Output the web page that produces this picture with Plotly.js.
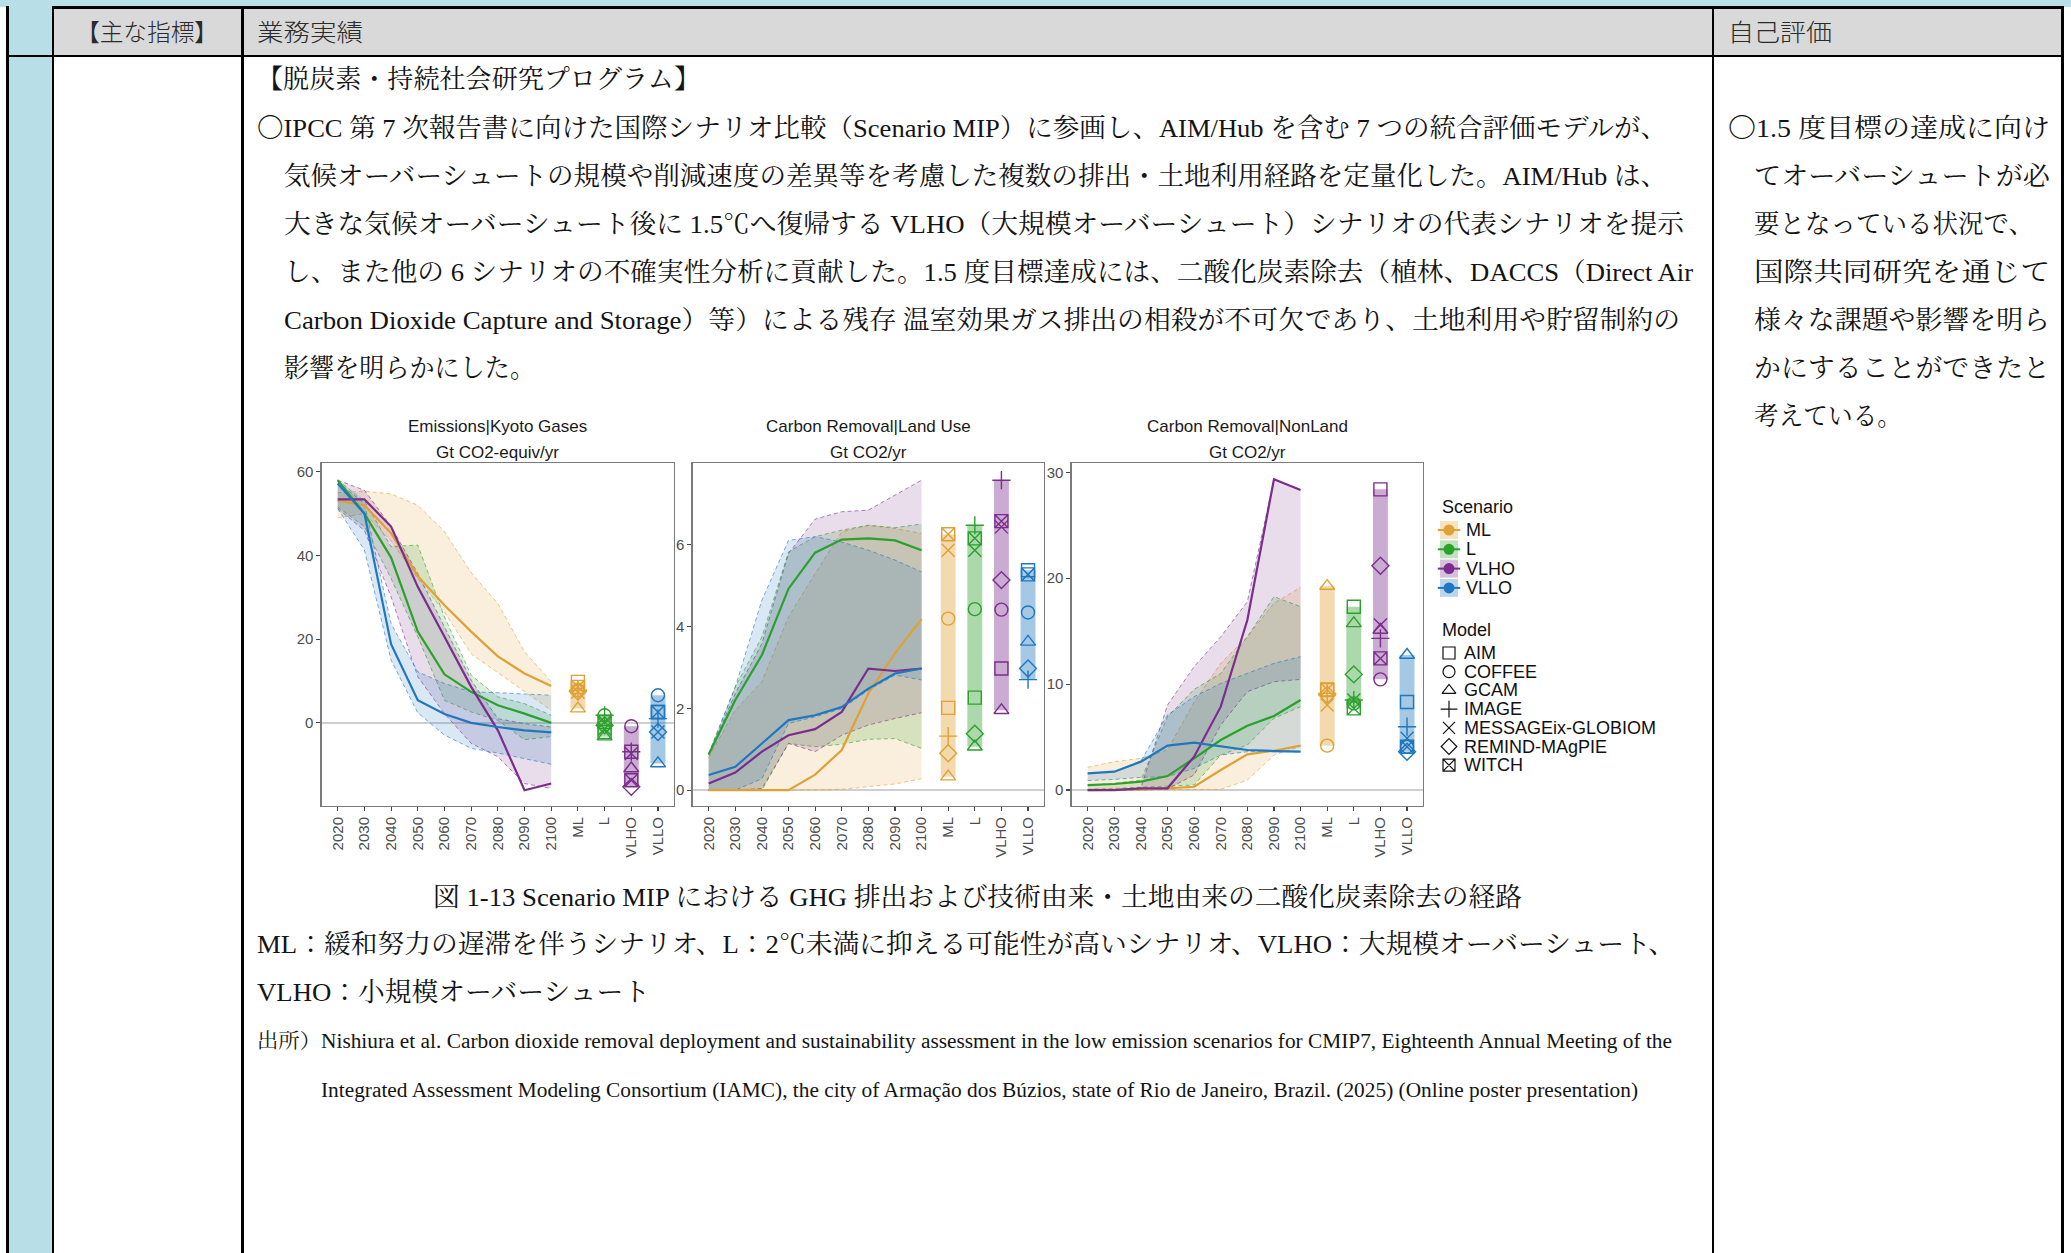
<!DOCTYPE html>
<html><head><meta charset="utf-8">
<script src="https://cdn.plot.ly/plotly-3.0.1.min.js"></script>
<style>
html,body{margin:0;padding:0;background:#fff;}
#page{position:relative;width:2071px;height:1253px;overflow:hidden;background:#fff;}
.blk{position:absolute;}
.ln{position:absolute;white-space:nowrap;transform-origin:0 50%;}
.serif{font-family:"Liberation Serif","Noto Serif CJK JP","Noto Sans CJK JP",serif;color:#141414;}
.hdr{font-family:"Noto Sans CJK JP",sans-serif;font-weight:300;color:#2a2a2a;}
#chart{position:absolute;left:0;top:0;width:2071px;height:1253px;pointer-events:none;z-index:5;}
</style></head>
<body>
<div id="page"><div id="chart"></div></div>
<script>
// ---------------- chart data ----------------
const categories = ['2020','2030','2040','2050','2060','2070','2080','2090','2100','ML','L','VLHO','VLLO'];
const years = ['2020','2030','2040','2050','2060','2070','2080','2090','2100'];
const scenarios = ['ML','L','VLHO','VLLO'];
const models = ['AIM','COFFEE','GCAM','IMAGE','MESSAGEix-GLOBIOM','REMIND-MAgPIE','WITCH'];
const panelTitles = ['Emissions|Kyoto Gases','Carbon Removal|Land Use','Carbon Removal|NonLand'];
const panelUnits = ['Gt CO2-equiv/yr','Gt CO2/yr','Gt CO2/yr'];

// Emissions|Kyoto Gases (rows: ML, L, VLHO, VLLO)
const kyotoMedian = [
  [53.1, 52.0, 45.3, 35.1, 28.1, 21.8, 15.9, 11.8, 8.8],
  [58.0, 50.0, 39.5, 21.8, 11.6, 7.4, 4.2, 2.2, 0.0],
  [53.4, 53.4, 46.9, 32.5, 20.6, 8.6, -1.8, -16.1, -14.5],
  [57.2, 50.0, 18.8, 5.4, 2.1, 0.0, -1.0, -1.8, -2.3]
];
const kyotoUpper = [
  [55.0, 55.4, 54.7, 52.0, 45.7, 35.9, 28.5, 17.0, 9.8],
  [58.0, 53.0, 42.1, 42.5, 25.3, 11.4, 6.2, 4.6, 1.8],
  [58.0, 55.6, 46.9, 35.7, 22.9, 10.2, 1.0, -0.2, -1.0],
  [57.6, 52.4, 23.7, 12.2, 9.4, 7.4, 7.2, 6.9, 6.6]
];
const kyotoLower = [
  [49.0, 50.0, 43.5, 34.5, 26.5, 16.5, 12.0, 7.5, 3.0],
  [51.6, 46.9, 34.5, 20.6, 5.4, 2.6, 0.6, -4.0, -3.3],
  [51.2, 46.0, 30.1, 11.0, 2.2, -4.9, -8.1, -14.5, -15.7],
  [51.2, 41.3, 15.0, 2.4, -2.9, -6.1, -7.2, -8.5, -9.9]
];
// 2100 values per model (columns: ML, L, VLHO, VLLO)
const kyoto2100 = [
  [9.8, -2.2, -6.9, 2.6],
  [7.8, 1.8, -0.8, 6.6],
  [3.4, -3.3, -10.9, -9.7],
  [7.8, 1.8, -6.9, 1.0],
  [7.4, -1.4, -7.3, -2.2],
  [7.5, -0.6, -15.3, -2.2],
  [8.6, 0.2, -13.7, 2.6]
];

// Carbon Removal|Land Use
const landMedian = [
  [0, 0, 0, 0, 0.38, 0.98, 2.36, 3.34, 4.18],
  [0.87, 2.2, 3.3, 4.92, 5.8, 6.12, 6.15, 6.1, 5.86],
  [0.16, 0.43, 0.94, 1.34, 1.49, 1.91, 2.97, 2.91, 2.97],
  [0.37, 0.57, 1.14, 1.71, 1.83, 2.03, 2.48, 2.85, 2.97]
];
const landUpper = [
  [0.8, 1.95, 2.65, 4.23, 5.29, 6.31, 6.47, 6.39, 6.27],
  [0.87, 2.52, 3.74, 5.82, 6.19, 6.35, 6.47, 6.41, 6.5],
  [0.87, 2.36, 3.58, 5.78, 6.62, 6.8, 6.84, 7.2, 7.57],
  [0.9, 2.52, 4.64, 6.1, 6.19, 6.06, 5.86, 5.62, 5.33]
];
const landLower = [
  [0, 0, 0, 0, 0, 0.02, 0.08, 0.15, 0.28],
  [0, 0, 0, 1.14, 1.06, 1.12, 1.24, 1.26, 1.02],
  [0, 0, 0.04, 1.14, 0.94, 1.34, 1.59, 1.75, 1.89],
  [0, 0, 0.28, 1.63, 1.79, 1.99, 2.44, 2.81, 2.69]
];
const land2100 = [
  [2.01, 2.26, 2.97, 5.37],
  [4.19, 4.42, 4.41, 4.34],
  [0.33, 1.06, 1.95, 3.62],
  [1.32, 6.47, 7.57, 2.7],
  [5.86, 5.86, 6.43, 5.27],
  [0.9, 1.38, 5.13, 2.97],
  [6.25, 6.15, 6.57, 5.27]
];

// Carbon Removal|NonLand
const nonlandMedian = [
  [0, 0, 0.06, 0.16, 0.31, 1.89, 3.37, 3.71, 4.19],
  [0.47, 0.57, 0.79, 1.32, 2.99, 4.72, 6.07, 6.99, 8.5],
  [0, 0, 0.16, 0.16, 3.15, 7.87, 16.05, 29.34, 28.33],
  [1.57, 1.73, 2.68, 4.19, 4.47, 4.09, 3.78, 3.68, 3.62]
];
const nonlandUpper = [
  [2.14, 2.68, 2.99, 3.78, 8.3, 11.96, 14.48, 17.63, 19.14],
  [0.47, 0.63, 0.94, 6.92, 9.5, 11.0, 14.48, 18.26, 17.31],
  [0, 0, 0.22, 8.03, 11.65, 14.48, 17.78, 29.34, 28.33],
  [1.57, 1.73, 2.74, 7.08, 8.81, 10.07, 11.02, 11.96, 12.59]
];
const nonlandLower = [
  [0, 0, 0, 0, 0, 0.06, 0.94, 3.3, 4.1],
  [0.06, 0.16, 0.31, 0.38, 0.47, 3.3, 4.25, 6.77, 7.87],
  [0, 0, 0, 0.1, 1.42, 6.14, 9.29, 10.23, 10.45],
  [0.9, 1.0, 1.2, 1.26, 2.05, 3.3, 3.62, 3.62, 3.62]
];
const nonland2100 = [
  [9.44, 17.31, 28.39, 8.31],
  [4.19, 8.18, 10.45, 4.09],
  [19.26, 15.74, 15.11, 12.75],
  [9.13, 8.5, 14.32, 5.98],
  [8.03, 8.5, 15.58, 4.88],
  [9.0, 10.92, 21.18, 3.62],
  [9.5, 7.71, 12.43, 4.09]
];

const yTicks = [[0,20,40,60],[0,2,4,6],[0,10,20,30]];
const yRanges = [[-19.8,62.1],[-0.38,7.99],[-1.48,30.88]];

// ---------------- styles ----------------
const scenarioColors = ['#DFA135','#2CA02C','#7B2D8B','#1F77BF'];
const modelSymbols = ['square-open','circle-open','triangle-up-open','cross-thin-open','x-thin-open','diamond-open','square-x-open'];
function rgba(hex,a){const n=parseInt(hex.slice(1),16);return 'rgba('+((n>>16)&255)+','+((n>>8)&255)+','+(n&255)+','+a+')';}

const W=2071,H=1253;
const panelPx=[[321.7,674],[692.7,1044],[1071.7,1423]];
const panelTop=463, panelBot=805.7;
const yDom=[1-panelBot/H, 1-panelTop/H];
const fontFam='Arial, "Liberation Sans", sans-serif';

const panels=[
  {med:kyotoMedian, lo:kyotoLower, hi:kyotoUpper, pts:kyoto2100},
  {med:landMedian, lo:landLower, hi:landUpper, pts:land2100},
  {med:nonlandMedian, lo:nonlandLower, hi:nonlandUpper, pts:nonland2100}
];

const traces=[];
const layout={
  width:W, height:H, margin:{l:0,r:0,t:0,b:0},
  paper_bgcolor:'rgba(0,0,0,0)', plot_bgcolor:'rgba(0,0,0,0)',
  showlegend:false, barmode:'overlay', font:{family:fontFam, color:'#1a1a1a'},
  annotations:[]
};

panels.forEach((p,k)=>{
  const xa = k===0?'x':'x'+(k+1), ya = k===0?'y':'y'+(k+1);
  const xKey = k===0?'xaxis':'xaxis'+(k+1), yKey = k===0?'yaxis':'yaxis'+(k+1);
  layout[xKey]={domain:[panelPx[k][0]/W, panelPx[k][1]/W], anchor:ya, type:'category',
    categoryorder:'array', categoryarray:categories, range:[-0.6,12.6],
    tickmode:'array', tickvals:categories, ticktext:categories, tickangle:-90,
    tickfont:{family:fontFam,size:15,color:'#4d4d4d'}, ticks:'outside', ticklen:4, tickwidth:1.1, tickcolor:'#444',
    showline:true, mirror:true, linecolor:'#7a7a7a', linewidth:1.3, showgrid:false, zeroline:false, fixedrange:true};
  layout[yKey]={domain:yDom, anchor:xa, range:yRanges[k], tickmode:'array', tickvals:yTicks[k],
    tickfont:{family:fontFam,size:15,color:'#4d4d4d'}, ticks:'outside', ticklen:4, tickwidth:1.1, tickcolor:'#444',
    showline:true, mirror:true, linecolor:'#7a7a7a', linewidth:1.3, showgrid:false,
    zeroline:true, zerolinecolor:'#cfcfcf', zerolinewidth:1.8, fixedrange:true};
  // ribbons
  scenarios.forEach((s,i)=>{
    traces.push({type:'scatter',mode:'lines',x:years,y:p.lo[i],xaxis:xa,yaxis:ya,hoverinfo:'skip',
      line:{color:rgba(scenarioColors[i],0.75),width:0.8,dash:'4px,3px'}});
    traces.push({type:'scatter',mode:'lines',x:years,y:p.hi[i],xaxis:xa,yaxis:ya,hoverinfo:'skip',
      fill:'tonexty',fillcolor:rgba(scenarioColors[i],0.17),
      line:{color:rgba(scenarioColors[i],0.75),width:0.8,dash:'4px,3px'}});
  });
  // median lines
  scenarios.forEach((s,i)=>{
    traces.push({type:'scatter',mode:'lines',x:years,y:p.med[i],xaxis:xa,yaxis:ya,hoverinfo:'skip',
      line:{color:scenarioColors[i],width:2.2}});
  });
  // 2100 range bars
  const mins=scenarios.map((s,i)=>Math.min(...p.pts.map(r=>r[i])));
  const maxs=scenarios.map((s,i)=>Math.max(...p.pts.map(r=>r[i])));
  traces.push({type:'bar',x:scenarios,base:mins,y:maxs.map((v,i)=>v-mins[i]),width:0.56,xaxis:xa,yaxis:ya,
    hoverinfo:'skip',marker:{color:scenarioColors.map(c=>rgba(c,0.4)),line:{width:0}}});
  // model markers
  models.forEach((m,j)=>{
    traces.push({type:'scatter',mode:'markers',x:scenarios,y:p.pts[j],xaxis:xa,yaxis:ya,hoverinfo:'skip',cliponaxis:false,
      marker:{symbol:modelSymbols[j],size:13,color:scenarioColors,line:{width:1.4,color:scenarioColors}}});
  });
  // panel titles
  const cx=(panelPx[k][0]+panelPx[k][1])/2/W;
  layout.annotations.push({xref:'paper',yref:'paper',x:cx,y:1-427/H,text:panelTitles[k],showarrow:false,
    xanchor:'center',yanchor:'middle',font:{family:fontFam,size:17,color:'#1a1a1a'}});
  layout.annotations.push({xref:'paper',yref:'paper',x:cx,y:1-452/H,text:panelUnits[k],showarrow:false,
    xanchor:'center',yanchor:'middle',font:{family:fontFam,size:17,color:'#1a1a1a'}});
});

// ---------------- legend (drawn on a hidden pixel-space axis pair) ----------------
layout.xaxis4={domain:[0,1],range:[0,W],visible:false,fixedrange:true};
layout.yaxis4={domain:[0,1],range:[H,0],visible:false,fixedrange:true};
const keyX=1449, labelX=1464;
const scenRowY=scenarios.map((s,i)=>530+i*19.3);
const modelRowY=models.map((m,j)=>653+j*18.7);
traces.push({type:'scatter',mode:'markers',xaxis:'x4',yaxis:'y4',hoverinfo:'skip',x:scenarios.map(()=>keyX),y:scenRowY,
  marker:{symbol:'square',size:18,color:scenarioColors.map(c=>rgba(c,0.3)),line:{width:0}}});
traces.push({type:'scatter',mode:'markers',xaxis:'x4',yaxis:'y4',hoverinfo:'skip',x:scenarios.map(()=>keyX),y:scenRowY,
  marker:{symbol:'line-ew-open',size:16,color:scenarioColors,line:{width:2,color:scenarioColors}}});
traces.push({type:'scatter',mode:'markers',xaxis:'x4',yaxis:'y4',hoverinfo:'skip',x:scenarios.map(()=>keyX),y:scenRowY,
  marker:{symbol:'circle',size:11,color:scenarioColors,line:{width:0}}});
traces.push({type:'scatter',mode:'markers',xaxis:'x4',yaxis:'y4',hoverinfo:'skip',x:models.map(()=>keyX),y:modelRowY,
  marker:{symbol:modelSymbols,size:12,color:'#111',line:{width:1.2,color:'#111'}}});
layout.annotations.push({xref:'x4',yref:'y4',x:1440,y:507,text:'Scenario',showarrow:false,xanchor:'left',yanchor:'middle',
  font:{family:fontFam,size:18,color:'#111'}});
layout.annotations.push({xref:'x4',yref:'y4',x:1440,y:630,text:'Model',showarrow:false,xanchor:'left',yanchor:'middle',
  font:{family:fontFam,size:18,color:'#111'}});
scenarios.forEach((s,i)=>layout.annotations.push({xref:'x4',yref:'y4',x:labelX,y:scenRowY[i],text:s,showarrow:false,
  xanchor:'left',yanchor:'middle',font:{family:fontFam,size:18,color:'#111'}}));
models.forEach((m,j)=>layout.annotations.push({xref:'x4',yref:'y4',x:labelX-2,y:modelRowY[j],text:m,showarrow:false,
  xanchor:'left',yanchor:'middle',font:{family:fontFam,size:18,color:'#111'}}));

Plotly.newPlot('chart',traces,layout,{staticPlot:true,displayModeBar:false});

// ---------------- document (table + text) ----------------
const page=document.getElementById('page');
const blocks=[
  [0,0,2071,7,'#b8dee8'],
  [8,0,44,1253,'#b8dee8'],
  [54,8,2008,47,'#d9d9d9'],
  [52,6,2012,2.5,'#000'],
  [6,54.5,2058,2.6,'#000'],
  [6,6,2.5,1247,'#000'],
  [51.5,6,2.5,1247,'#000'],
  [240.8,6,2.8,1247,'#000'],
  [1711.5,6,2.6,1247,'#000'],
  [2061,6,2.6,1247,'#000']
];
blocks.forEach(b=>{const d=document.createElement('div');d.className='blk';
  d.style.cssText='left:'+b[0]+'px;top:'+b[1]+'px;width:'+b[2]+'px;height:'+b[3]+'px;background:'+b[4]+';';
  page.appendChild(d);});

const docLines=[
  ['【主な指標】',76,218,31,24,'hdr'],
  ['業務実績',257,363,31,24,'hdr'],
  ['自己評価',1728,1832,31,24,'hdr'],
  ['【脱炭素・持続社会研究プログラム】',257,700,80,26,'serif'],
  ['〇IPCC 第 7 次報告書に向けた国際シナリオ比較（Scenario MIP）に参画し、AIM/Hub を含む 7 つの統合評価モデルが、',257,1667,129,26,'serif'],
  ['気候オーバーシュートの規模や削減速度の差異等を考慮した複数の排出・土地利用経路を定量化した。AIM/Hub は、',284,1667,177,26,'serif'],
  ['大きな気候オーバーシュート後に 1.5℃へ復帰する VLHO（大規模オーバーシュート）シナリオの代表シナリオを提示',284,1684,225,26,'serif'],
  ['し、また他の 6 シナリオの不確実性分析に貢献した。1.5 度目標達成には、二酸化炭素除去（植林、DACCS（Direct Air',284,1693,273,26,'serif'],
  ['Carbon Dioxide Capture and Storage）等）による残存 温室効果ガス排出の相殺が不可欠であり、土地利用や貯留制約の',284,1680,321,26,'serif'],
  ['影響を明らかにした。',284,535,369,26,'serif'],
  ['〇1.5 度目標の達成に向け',1728,2050,129,26,'serif'],
  ['てオーバーシュートが必',1754,2050,177,26,'serif'],
  ['要となっている状況で、',1754,2034,225,26,'serif'],
  ['国際共同研究を通じて',1754,2050,273,26,'serif'],
  ['様々な課題や影響を明ら',1754,2050,321,26,'serif'],
  ['かにすることができたと',1754,2050,369,26,'serif'],
  ['考えている。',1754,1902,417,26,'serif'],
  ['図 1-13 Scenario MIP における GHG 排出および技術由来・土地由来の二酸化炭素除去の経路',433,1522,898,26,'serif'],
  ['ML：緩和努力の遅滞を伴うシナリオ、L：2℃未満に抑える可能性が高いシナリオ、VLHO：大規模オーバーシュート、',257,1675,945,26,'serif'],
  ['VLHO：小規模オーバーシュート',257,650,993,26,'serif'],
  ['出所）Nishiura et al. Carbon dioxide removal deployment and sustainability assessment in the low emission scenarios for CMIP7, Eighteenth Annual Meeting of the',257,1672,1041,20,'serif'],
  ['Integrated Assessment Modeling Consortium (IAMC), the city of Armação dos Búzios, state of Rio de Janeiro, Brazil. (2025) (Online poster presentation)',321,1638,1090,20,'serif']
];
docLines.forEach(l=>{
  const d=document.createElement('div');d.className='ln '+l[5];d.textContent=l[0];
  d.style.left=l[1]+'px';d.style.fontSize=l[4]+'px';d.style.lineHeight=Math.round(l[4]*1.3)+'px';
  d.style.top=(l[3]-l[4]*0.65)+'px';
  page.appendChild(d);
  const w=d.getBoundingClientRect().width;
  if(w>0) d.style.transform='scaleX('+((l[2]-l[1])/w).toFixed(4)+')';
});
</script>
</body></html>
